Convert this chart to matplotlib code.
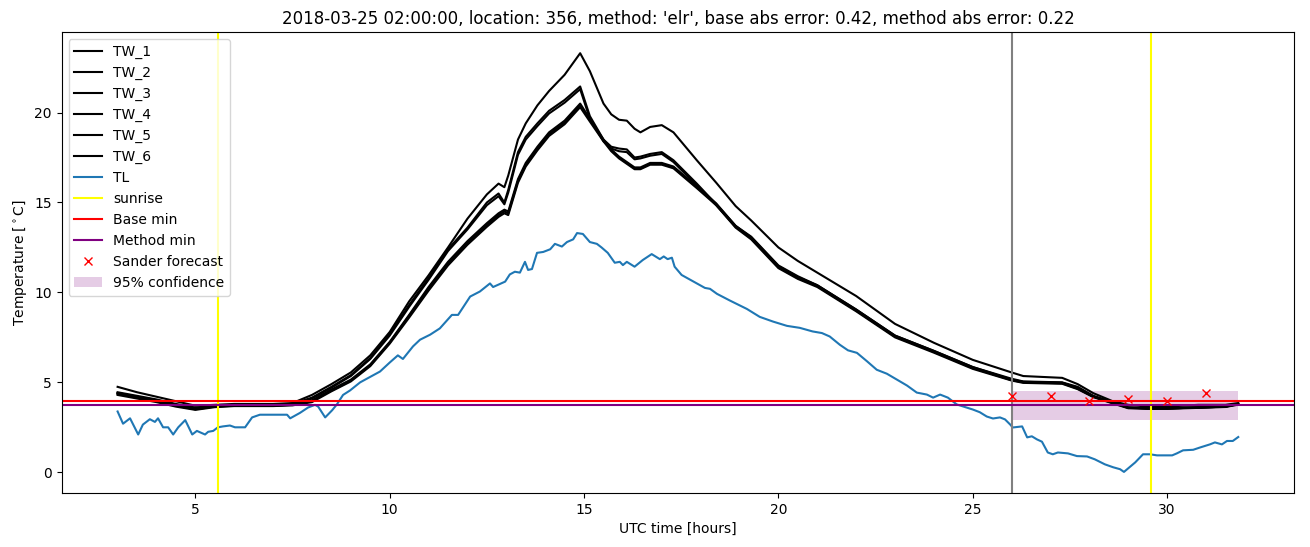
import numpy as np
from matplotlib import pyplot as plt

# hours since 2018-03-25 00:00 UTC
tw_hours = [3.0, 3.5, 4.0, 4.5, 5.0, 5.5, 6.0, 6.5, 7.0, 7.5,
            8.0, 8.5, 9.0, 9.5, 10.0, 10.5, 11.0, 11.5, 12.0, 12.5,
            12.8, 12.95, 13.05, 13.3, 13.5, 13.8, 14.1, 14.5, 14.9, 15.15,
            15.5, 15.7, 15.9, 16.1, 16.3, 16.45, 16.7, 17.0, 17.3, 17.9,
            18.4, 18.9, 19.3, 20.0, 20.5, 21.0, 22.0, 23.0, 24.0, 25.0,
            26.0, 26.3, 27.3, 27.7, 28.1, 28.6, 29.0, 29.5, 30.0, 30.8,
            31.5, 31.83]

tw_1 = [4.75, 4.45, 4.2, 3.95, 3.7, 3.75, 3.8, 3.8, 3.8, 3.85,
        4.3, 4.9, 5.55, 6.5, 7.8, 9.5, 10.95, 12.5, 14.1, 15.45,
        16.05, 15.85, 16.5, 18.5, 19.4, 20.4, 21.2, 22.1, 23.3, 22.3,
        20.5, 19.9, 19.6, 19.55, 19.1, 18.9, 19.2, 19.3, 18.9, 17.35,
        16.1, 14.8, 14.0, 12.5, 11.75, 11.1, 9.8, 8.25, 7.2, 6.25,
        5.55, 5.35, 5.25, 4.9, 4.4, 3.95, 3.75, 3.65, 3.65, 3.75,
        3.75, 3.85]
tw_2 = [4.45, 4.25, 4.05, 3.8, 3.6, 3.7, 3.75, 3.75, 3.75, 3.8,
        4.15, 4.75, 5.4, 6.35, 7.7, 9.3, 10.8, 12.4, 13.6, 15.0,
        15.5, 15.0, 15.7, 17.8, 18.65, 19.4, 20.1, 20.7, 21.45, 19.8,
        18.5, 18.1, 18.0, 17.95, 17.5, 17.55, 17.7, 17.8, 17.35, 16.05,
        14.9, 13.7, 13.1, 11.5, 10.9, 10.4, 9.05, 7.6, 6.75, 5.85,
        5.2, 5.05, 5.0, 4.75, 4.25, 3.9, 3.6, 3.55, 3.55, 3.6,
        3.65, 3.8]
tw_3 = [4.35, 4.15, 3.95, 3.7, 3.5, 3.65, 3.7, 3.7, 3.7, 3.75,
        3.95, 4.55, 5.1, 5.95, 7.2, 8.7, 10.2, 11.6, 12.75, 13.75,
        14.3, 14.5, 14.4, 16.2, 17.1, 18.0, 18.8, 19.45, 20.4, 19.6,
        18.5, 17.9, 17.5, 17.2, 16.9, 16.9, 17.15, 17.15, 16.95, 15.85,
        14.9, 13.65, 13.0, 11.4, 10.8, 10.35, 9.0, 7.55, 6.7, 5.8,
        5.12, 5.0, 4.95, 4.65, 4.2, 3.85, 3.58, 3.55, 3.55, 3.6,
        3.65, 3.78]
tw_4 = [4.4, 4.2, 4.0, 3.75, 3.55, 3.68, 3.72, 3.72, 3.72, 3.78,
        4.1, 4.7, 5.35, 6.3, 7.6, 9.2, 10.7, 12.3, 13.5, 14.85,
        15.35, 14.9, 15.55, 17.65, 18.5, 19.25, 19.95, 20.55, 21.3, 19.65,
        18.4, 18.0, 17.85, 17.8, 17.4, 17.45, 17.6, 17.7, 17.25, 15.95,
        14.85, 13.65, 13.05, 11.45, 10.85, 10.35, 9.0, 7.55, 6.7, 5.8,
        5.15, 5.02, 4.97, 4.7, 4.22, 3.88, 3.6, 3.55, 3.55, 3.6,
        3.65, 3.8]
tw_5 = [4.4, 4.18, 3.98, 3.72, 3.52, 3.66, 3.71, 3.71, 3.71, 3.76,
        4.0, 4.6, 5.15, 6.0, 7.25, 8.75, 10.3, 11.7, 12.85, 13.85,
        14.4, 14.6, 14.5, 16.3, 17.2, 18.1, 18.9, 19.55, 20.5, 19.65,
        18.45, 17.95, 17.55, 17.25, 16.95, 16.95, 17.2, 17.2, 17.0, 15.9,
        14.95, 13.7, 13.05, 11.45, 10.85, 10.4, 9.05, 7.6, 6.75, 5.85,
        5.15, 5.03, 4.98, 4.68, 4.22, 3.87, 3.6, 3.56, 3.56, 3.62,
        3.66, 3.8]
tw_6 = [4.3, 4.1, 3.9, 3.65, 3.47, 3.62, 3.68, 3.68, 3.68, 3.72,
        3.9, 4.5, 5.05, 5.9, 7.15, 8.6, 10.1, 11.5, 12.65, 13.65,
        14.2, 14.4, 14.3, 16.1, 17.0, 17.9, 18.7, 19.35, 20.3, 19.5,
        18.4, 17.85, 17.45, 17.15, 16.85, 16.85, 17.1, 17.1, 16.9, 15.8,
        14.85, 13.6, 12.95, 11.35, 10.75, 10.3, 8.95, 7.5, 6.65, 5.75,
        5.1, 4.97, 4.92, 4.62, 4.18, 3.83, 3.56, 3.53, 3.53, 3.58,
        3.63, 3.76]

tl_hours = [3.0, 3.14, 3.32, 3.53, 3.65, 3.83, 3.96, 4.04, 4.17, 4.3,
            4.43, 4.56, 4.74, 4.92, 5.04, 5.25, 5.33, 5.46, 5.58, 5.71,
            5.89, 6.02, 6.28, 6.46, 6.66, 7.36, 7.44, 7.69, 7.9, 8.08,
            8.16, 8.34, 8.52, 8.64, 8.8, 8.98, 9.24, 9.75, 10.0, 10.21,
            10.34, 10.6, 10.78, 11.04, 11.29, 11.6, 11.76, 12.07, 12.32, 12.58,
            12.66, 12.97, 13.09, 13.22, 13.35, 13.48, 13.56, 13.66, 13.79, 13.95,
            14.13, 14.25, 14.43, 14.56, 14.72, 14.82, 14.97, 15.15, 15.33, 15.45,
            15.61, 15.79, 15.92, 16.0, 16.1, 16.3, 16.51, 16.74, 16.95, 17.05,
            17.15, 17.26, 17.33, 17.51, 17.9, 18.11, 18.24, 18.42, 18.75, 19.19,
            19.52, 19.86, 20.22, 20.55, 20.88, 21.12, 21.32, 21.58, 21.79, 22.02,
            22.28, 22.53, 22.79, 23.05, 23.31, 23.56, 23.82, 23.98, 24.16, 24.36,
            24.59, 25.0, 25.18, 25.36, 25.52, 25.7, 25.83, 25.96, 26.03, 26.14,
            26.27, 26.4, 26.52, 26.65, 26.78, 26.93, 27.06, 27.19, 27.45, 27.68,
            27.94, 28.14, 28.4, 28.61, 28.79, 28.89, 29.0, 29.18, 29.38, 29.56,
            29.74, 30.13, 30.25, 30.41, 30.67, 30.85, 31.1, 31.23, 31.41, 31.54,
            31.69, 31.83]
tl_temp = [3.38, 2.7, 3.0, 2.1, 2.65, 2.95, 2.8, 3.0, 2.5, 2.5,
           2.1, 2.5, 2.9, 2.1, 2.3, 2.1, 2.25, 2.3, 2.5, 2.55,
           2.6, 2.5, 2.5, 3.05, 3.2, 3.2, 3.0, 3.3, 3.6, 3.75,
           3.65, 3.05, 3.45, 3.77, 4.3, 4.55, 5.0, 5.6, 6.1, 6.5,
           6.3, 7.0, 7.37, 7.65, 8.0, 8.75, 8.75, 9.77, 10.05, 10.5,
           10.3, 10.6, 11.0, 11.15, 11.1, 11.7, 11.25, 11.3, 12.2, 12.25,
           12.4, 12.7, 12.55, 12.8, 12.95, 13.3, 13.25, 12.8, 12.7, 12.5,
           12.2, 11.65, 11.7, 11.52, 11.7, 11.43, 11.8, 12.13, 11.85, 12.0,
           11.85, 11.93, 11.43, 10.97, 10.5, 10.25, 10.2, 9.92, 9.55, 9.08,
           8.64, 8.38, 8.14, 8.03, 7.83, 7.74, 7.55, 7.09, 6.78, 6.64,
           6.17, 5.7, 5.48, 5.15, 4.82, 4.43, 4.32, 4.15, 4.32, 4.15,
           3.77, 3.49, 3.34, 3.1, 2.99, 3.05, 2.94, 2.66, 2.49, 2.52,
           2.55, 1.94, 2.0, 1.83, 1.7, 1.1, 1.0, 1.1, 1.05, 0.9,
           0.88, 0.72, 0.44, 0.28, 0.17, 0.02, 0.22, 0.55, 1.0, 1.0,
           0.94, 0.94, 1.05, 1.22, 1.25, 1.38, 1.55, 1.66, 1.55, 1.74,
           1.74, 1.96]

sunrise_hours = [5.58, 29.58]
forecast_time = 26.0
base_min = 3.95
method_min = 3.73
sander_hours = [26, 27, 28, 29, 30, 31]
sander_temp = [4.23, 4.23, 3.99, 4.08, 3.95, 4.41]
conf_hours = [26.0, 31.83]
conf_low = [2.9, 2.9]
conf_high = [4.54, 4.54]


def main():
    fig, ax = plt.subplots(figsize=(13.1, 5.47), dpi=100)
    fig.subplots_adjust(left=0.047, right=0.988, top=0.941, bottom=0.099)

    tws = [tw_1, tw_2, tw_3, tw_4, tw_5, tw_6]
    for i, tw in enumerate(tws):
        ax.plot(tw_hours, tw, color="k", label="TW_%d" % (i + 1))
    ax.plot(tl_hours, tl_temp, color="tab:blue", label="TL")

    for i, s in enumerate(sunrise_hours):
        ax.axvline(s, color="yellow", label="sunrise" if i == 0 else None)
    ax.axvline(forecast_time, color="grey")

    ax.axhline(base_min, color="red", label="Base min")
    ax.axhline(method_min, color="purple", label="Method min")
    ax.plot(sander_hours, sander_temp, "rx", label="Sander forecast")
    ax.fill_between(conf_hours, conf_low, conf_high, color="purple",
                    alpha=0.2, lw=0, label="95% confidence")

    ax.set_xlabel("UTC time [hours]")
    ax.set_ylabel("Temperature [$^\\circ$C]")
    ax.set_title("2018-03-25 02:00:00, location: 356, method: 'elr', "
                 "base abs error: 0.42, method abs error: 0.22")
    ax.legend(loc="upper left")

    plt.savefig("out.png")


if __name__ == "__main__":
    main()
